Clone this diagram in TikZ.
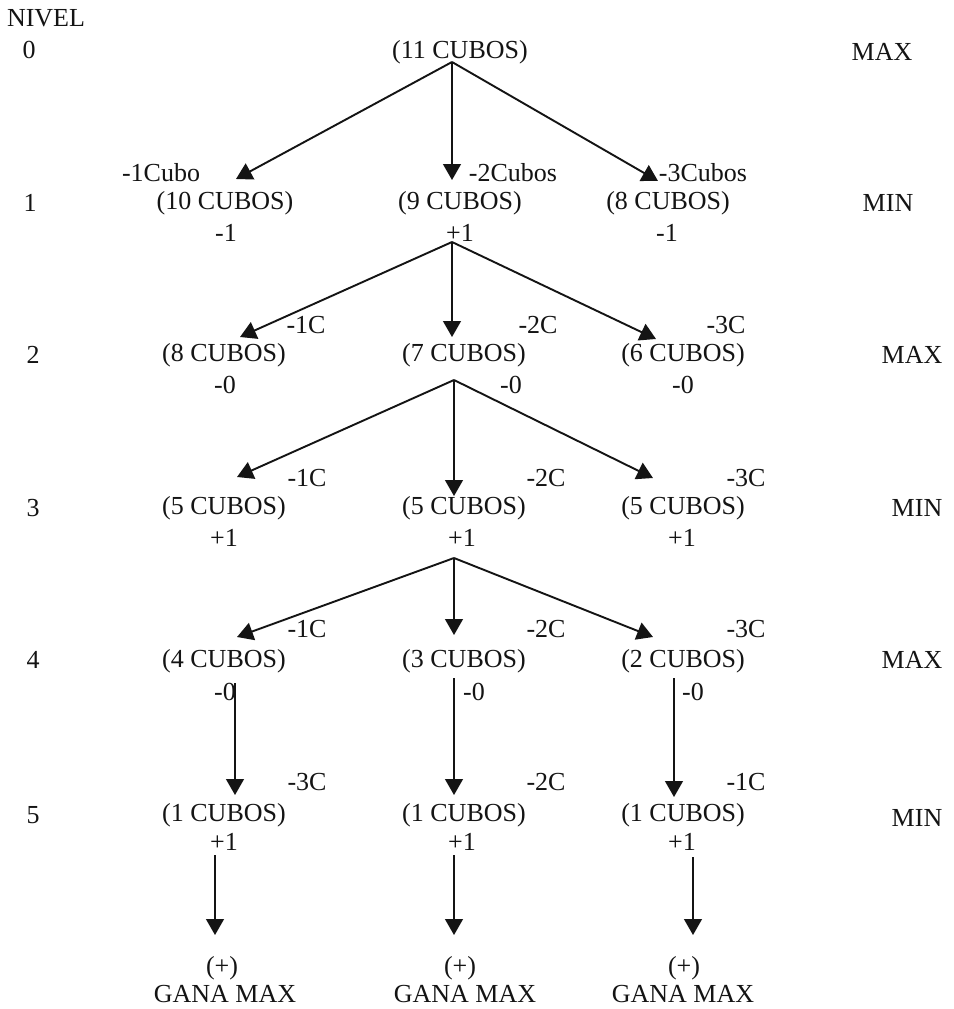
\documentclass[tikz,border=0pt]{standalone}
\usepackage{fontspec}
\setmainfont{Liberation Serif}
\usetikzlibrary{arrows.meta}

\tikzset{
  txt/.style={inner sep=0pt, font=\fontsize{26}{30}\selectfont, text=black!92},
  edge/.style={line width=1.9pt, draw=black!92,
               -{Triangle[length=16pt,width=18pt]}},
  vedge/.style={line width=1.3pt, draw=black!92,
               -{Triangle[length=16pt,width=18pt]}},
}

\begin{document}
\begin{tikzpicture}[x=1pt,y=-1pt]
  \useasboundingbox[fill=white] (0,0) rectangle (953,1009);

  % level column on the left
  \node[txt] (nivel) at (46,18) {NIVEL};
  \node[txt] (l0) at (29,50)  {0};
  \node[txt] (l1) at (30,203) {1};
  \node[txt] (l2) at (33,355) {2};
  \node[txt] (l3) at (33,508) {3};
  \node[txt] (l4) at (33,660) {4};
  \node[txt] (l5) at (33,815) {5};

  % player column on the right
  \node[txt] (p0) at (882,52)  {MAX};
  \node[txt] (p1) at (888,203) {MIN};
  \node[txt] (p2) at (912,355) {MAX};
  \node[txt] (p3) at (917,508) {MIN};
  \node[txt] (p4) at (912,660) {MAX};
  \node[txt] (p5) at (917,818) {MIN};

  % level 0
  \node[txt] (r) at (460,52) {(11 CUBOS)};

  % level 1
  \node[txt] (a1) at (225,203) {(10 CUBOS)};
  \node[txt] (a2) at (460,203) {(9 CUBOS)};
  \node[txt] (a3) at (668,203) {(8 CUBOS)};
  \node[txt] (va1) at (226,233) {-1};
  \node[txt] (va2) at (460,233) {+1};
  \node[txt] (va3) at (667,233) {-1};
  \node[txt] (ea1) at (161,173) {-1Cubo};
  \node[txt] (ea2) at (513,173) {-2Cubos};
  \node[txt] (ea3) at (703,173) {-3Cubos};

  % level 2
  \node[txt] (b1) at (224,355) {(8 CUBOS)};
  \node[txt] (b2) at (464,355) {(7 CUBOS)};
  \node[txt] (b3) at (683,355) {(6 CUBOS)};
  \node[txt] (vb1) at (225,385) {-0};
  \node[txt] (vb2) at (511,385) {-0};
  \node[txt] (vb3) at (683,385) {-0};
  \node[txt] (eb1) at (306,325) {-1C};
  \node[txt] (eb2) at (538,325) {-2C};
  \node[txt] (eb3) at (726,325) {-3C};

  % level 3
  \node[txt] (c1) at (224,508) {(5 CUBOS)};
  \node[txt] (c2) at (464,508) {(5 CUBOS)};
  \node[txt] (c3) at (683,508) {(5 CUBOS)};
  \node[txt] (vc1) at (224,538) {+1};
  \node[txt] (vc2) at (462,538) {+1};
  \node[txt] (vc3) at (682,538) {+1};
  \node[txt] (ec1) at (307,478) {-1C};
  \node[txt] (ec2) at (546,478) {-2C};
  \node[txt] (ec3) at (746,478) {-3C};

  % level 4
  \node[txt] (d1) at (224,661) {(4 CUBOS)};
  \node[txt] (d2) at (464,661) {(3 CUBOS)};
  \node[txt] (d3) at (683,661) {(2 CUBOS)};
  \node[txt] (vd1) at (225,692) {-0};
  \node[txt] (vd2) at (474,692) {-0};
  \node[txt] (vd3) at (693,692) {-0};
  \node[txt] (ed1) at (307,629) {-1C};
  \node[txt] (ed2) at (546,629) {-2C};
  \node[txt] (ed3) at (746,629) {-3C};

  % level 5
  \node[txt] (e1) at (224,815) {(1 CUBOS)};
  \node[txt] (e2) at (464,815) {(1 CUBOS)};
  \node[txt] (e3) at (683,815) {(1 CUBOS)};
  \node[txt] (ve1) at (224,842) {+1};
  \node[txt] (ve2) at (462,842) {+1};
  \node[txt] (ve3) at (682,842) {+1};
  \node[txt] (ee1) at (307,782) {-3C};
  \node[txt] (ee2) at (546,782) {-2C};
  \node[txt] (ee3) at (746,782) {-1C};

  % terminal states
  \node[txt] (f1) at (222,968) {(+)};
  \node[txt] (f2) at (460,968) {(+)};
  \node[txt] (f3) at (684,968) {(+)};
  \node[txt] (g1) at (225,994) {GANA MAX};
  \node[txt] (g2) at (465,994) {GANA MAX};
  \node[txt] (g3) at (683,994) {GANA MAX};

  % branch points (arrow starts) and arrow ends
  \coordinate (s0) at (452,62);
  \coordinate (ta1) at (236,179);
  \coordinate (ta2) at (452,180);
  \coordinate (ta3) at (658,181);

  \coordinate (s1) at (452,242);
  \coordinate (tb1) at (240,337);
  \coordinate (tb2) at (452,337);
  \coordinate (tb3) at (656,339);

  \coordinate (s2) at (454,380);
  \coordinate (tc1) at (237,477);
  \coordinate (tc2) at (454,496);
  \coordinate (tc3) at (653,478);

  \coordinate (s3) at (454,558);
  \coordinate (td1) at (237,637);
  \coordinate (td2) at (454,635);
  \coordinate (td3) at (653,637);

  \coordinate (sd1) at (235,683);
  \coordinate (sd2) at (454,678);
  \coordinate (sd3) at (674,678);
  \coordinate (te1) at (235,795);
  \coordinate (te2) at (454,795);
  \coordinate (te3) at (674,797);

  \coordinate (se1) at (215,855);
  \coordinate (se2) at (454,855);
  \coordinate (se3) at (693,857);
  \coordinate (tf1) at (215,935);
  \coordinate (tf2) at (454,935);
  \coordinate (tf3) at (693,935);

  % moves
  \draw[edge]  (s0) -- (ta1);
  \draw[vedge] (s0) -- (ta2);
  \draw[edge]  (s0) -- (ta3);

  \draw[edge]  (s1) -- (tb1);
  \draw[vedge] (s1) -- (tb2);
  \draw[edge]  (s1) -- (tb3);

  \draw[edge]  (s2) -- (tc1);
  \draw[vedge] (s2) -- (tc2);
  \draw[edge]  (s2) -- (tc3);

  \draw[edge]  (s3) -- (td1);
  \draw[vedge] (s3) -- (td2);
  \draw[edge]  (s3) -- (td3);

  \draw[vedge] (sd1) -- (te1);
  \draw[vedge] (sd2) -- (te2);
  \draw[vedge] (sd3) -- (te3);

  \draw[vedge] (se1) -- (tf1);
  \draw[vedge] (se2) -- (tf2);
  \draw[vedge] (se3) -- (tf3);
\end{tikzpicture}
\end{document}
